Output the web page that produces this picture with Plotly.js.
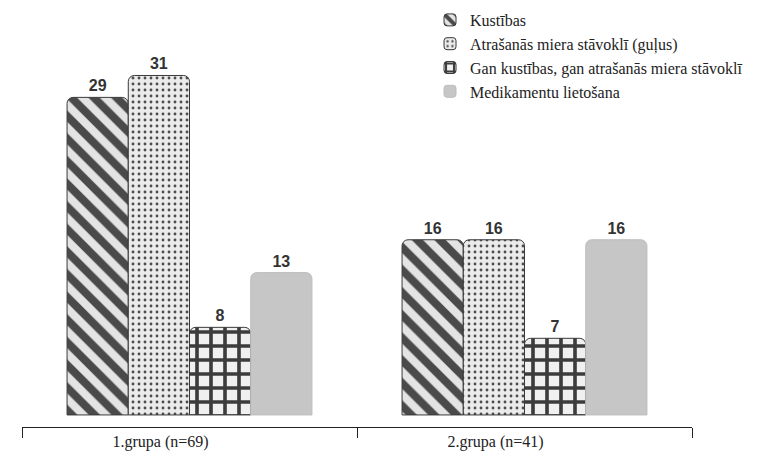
<!DOCTYPE html>
<html>
<head>
<meta charset="utf-8">
<script src="https://cdn.plot.ly/plotly-3.0.1.min.js"></script>
<style>
  html, body { margin: 0; padding: 0; background: #fff; }
  #chart { width: 759px; height: 457px; }
</style>
</head>
<body>
<div id="chart"></div>
<script>
// Groups on the x axis
const groups = ['1.grupa (n=69)', '2.grupa (n=41)'];

// One array per answer option
const seriesNames = [
  'Kustības',
  'Atrašanās miera stāvoklī (guļus)',
  'Gan kustības, gan atrašanās miera stāvoklī',
  'Medikamentu lietošana'
];
const kustibas = [29, 16];
const atrasanas = [31, 16];
const abi = [8, 7];
const medikamenti = [13, 16];

const sans = 'Liberation Sans';
const serif = 'Liberation Serif';

function barTrace(name, values, marker) {
  return {
    type: 'bar',
    name: name,
    x: groups,
    y: values,
    marker: marker,
    texttemplate: '<b>%{y}</b>',
    textposition: 'outside',
    cliponaxis: false,
    textfont: { family: sans, size: 16, color: '#333' },
    hoverinfo: 'skip'
  };
}

const traces = [
  barTrace(seriesNames[0], kustibas, {
    color: '#e2e2e2',
    line: { color: '#3a3a3a', width: 1 },
    pattern: { shape: '\\', fgcolor: '#4a4a4a', bgcolor: '#e4e4e4', size: 16, solidity: 0.5, fillmode: 'replace' },
    cornerradius: 6
  }),
  barTrace(seriesNames[1], atrasanas, {
    color: '#e6e6e6',
    line: { color: '#3a3a3a', width: 1 },
    pattern: { shape: '.', fgcolor: '#4d4d4d', bgcolor: '#ebebeb', size: 6, solidity: 0.18, fillmode: 'replace' },
    cornerradius: 6
  }),
  barTrace(seriesNames[2], abi, {
    color: '#f0f0f0',
    line: { color: '#3a3a3a', width: 1 },
    pattern: { shape: '+', fgcolor: '#3c3c3c', bgcolor: '#f0f0f0', size: 14, solidity: 0.45, fillmode: 'replace' },
    cornerradius: 6
  }),
  barTrace(seriesNames[3], medikamenti, {
    color: '#c6c6c6',
    line: { color: '#bdbdbd', width: 1 },
    cornerradius: 6
  })
];

const layout = {
  width: 759,
  height: 457,
  margin: { l: 22, r: 67, t: 3, b: 30 },
  paper_bgcolor: '#ffffff',
  plot_bgcolor: '#ffffff',
  font: { family: serif, color: '#222' },
  barmode: 'group',
  bargap: 0.269,
  bargroupgap: 0,
  showlegend: true,
  legend: {
    x: 0.609, xanchor: 'left',
    y: 1.0, yanchor: 'top',
    font: { family: serif, size: 16, color: '#222' },
    bgcolor: 'rgba(0,0,0,0)',
    traceorder: 'normal'
  },
  xaxis: {
    type: 'category',
    showline: true,
    linecolor: '#222',
    linewidth: 1,
    ticks: 'outside',
    tickson: 'boundaries',
    ticklen: 10,
    tickcolor: '#222',
    ticklabelshift: -29,
    tickfont: { family: serif, size: 16, color: '#222' },
    showgrid: false,
    zeroline: false,
    fixedrange: true
  },
  yaxis: {
    range: [-1.1, 37.62],
    visible: false,
    showgrid: false,
    zeroline: false,
    fixedrange: true
  }
};

Plotly.newPlot('chart', traces, layout, { displayModeBar: false, staticPlot: true });
</script>
</body>
</html>
